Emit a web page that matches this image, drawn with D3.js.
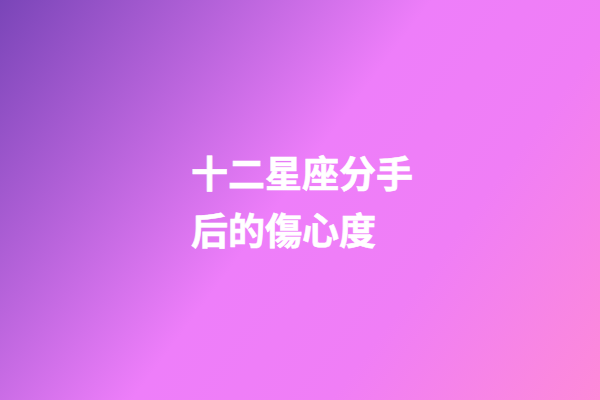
<!DOCTYPE html>
<head>
  <meta charset="UTF-8" />
  <script src="https://d3js.org/d3.v7.min.js"></script>
  <style>
    body {
      margin: 0;
      overflow: hidden;
    }
  </style>
</head>

<body>
  <script>
    var width = 600,
      height = 400;

    // titre sur deux lignes
    var titleLines = ["十二星座分手", "后的傷心度"];

    // degrade du fond (haut gauche -> bas droite)
    var stopOffsets = [0, 0.48, 0.7, 1];
    var stopColors = ["#7a45b8", "#ee7efa", "#f07ef6", "#fd8ad8"];

    var svg = d3
      .select("body")
      .append("svg")
      .attr("width", width)
      .attr("height", height);

    var grad = svg
      .append("defs")
      .append("linearGradient")
      .attr("id", "bg")
      .attr("gradientUnits", "userSpaceOnUse")
      .attr("x1", 0)
      .attr("y1", 0)
      .attr("x2", 576)
      .attr("y2", 432);

    grad
      .selectAll("stop")
      .data(stopOffsets)
      .enter()
      .append("stop")
      .attr("offset", function (d) {
        return d;
      })
      .attr("stop-color", function (d, i) {
        return stopColors[i];
      });

    svg
      .append("rect")
      .attr("width", width)
      .attr("height", height)
      .attr("fill", "url(#bg)");

    // position des lignes
    var y = d3.scalePoint().domain(d3.range(titleLines.length)).range([172, 229]);

    svg
      .selectAll("text.title")
      .data(titleLines)
      .enter()
      .append("text")
      .attr("class", "title")
      .attr("x", 191)
      .attr("y", function (d, i) {
        return y(i);
      })
      .attr("dominant-baseline", "central")
      .style("font-family", '"Noto Sans CJK SC", "Noto Sans CJK TC", sans-serif')
      .style("font-weight", "bold")
      .style("font-size", "37px")
      .style("fill", "#ffffff")
      .style("stroke", "#ffffff")
      .style("stroke-width", "0.6px")
      .text(function (d) {
        return d;
      });
  </script>
</body>
